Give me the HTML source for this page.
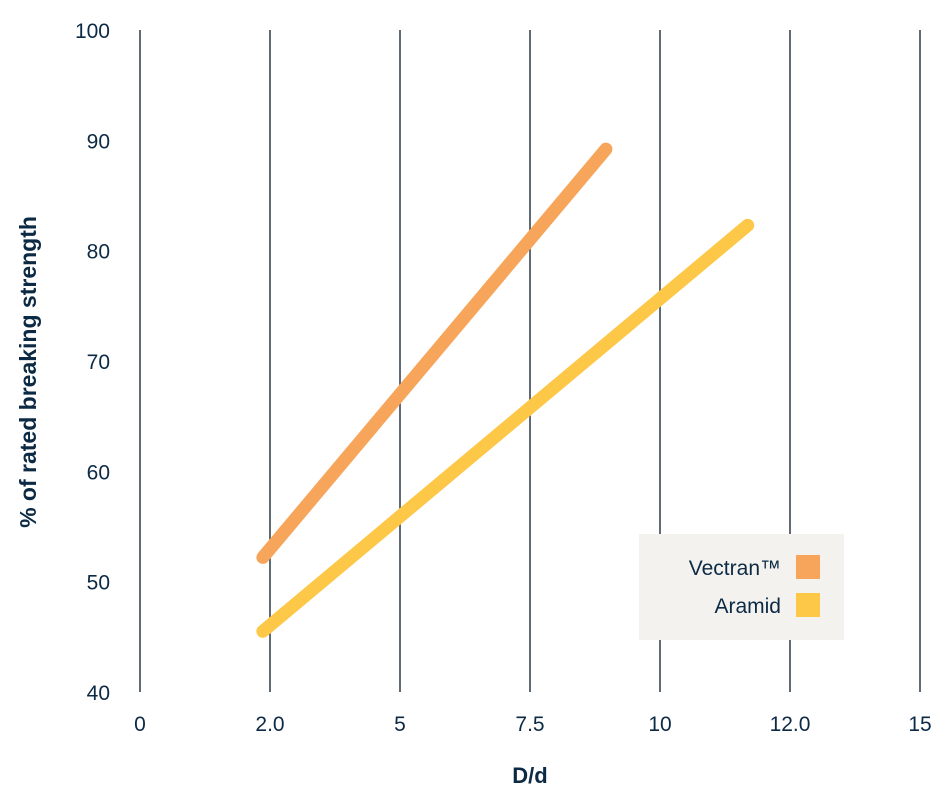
<!DOCTYPE html>
<html><head><meta charset="utf-8"><style>
html,body{margin:0;padding:0;background:#fff;}
svg{display:block;font-family:"Liberation Sans",sans-serif;}
</style></head><body>
<svg id="chart" width="943" height="797" viewBox="0 0 943 797" xmlns="http://www.w3.org/2000/svg"></svg>
<script>
const xTickLabels = ["0","2.0","5","7.5","10","12.0","15"];
const xTickValues = [0,2,5,7.5,10,12,15];
const yTicks = [40,50,60,70,80,90,100];
const seriesNames = ["Vectran™","Aramid"];
const vectranX = [1.89, 8.96];
const vectranY = [52.2, 89.2];
const aramidX = [1.89, 11.35];
const aramidY = [45.5, 82.3];

const NS = "http://www.w3.org/2000/svg";
const svg = document.getElementById("chart");
const X0 = 140, XSTEP = 130, YTOP = 30, YBOT = 692;
const ink = "#0d2a45";
function xScale(v){
  for(let i=0;i<xTickValues.length-1;i++){
    const a=xTickValues[i], b=xTickValues[i+1];
    if(v<=b || i===xTickValues.length-2){
      return X0 + (i + (v-a)/(b-a))*XSTEP;
    }
  }
}
function yScale(v){ return YBOT - (v-40)/(60)*(YBOT-YTOP); }
function mk(tag, attrs){
  const e=document.createElementNS(NS,tag);
  for(const k in attrs) e.setAttribute(k, attrs[k]);
  svg.appendChild(e); return e;
}
xTickValues.forEach((v,i)=>{
  const x=xScale(v);
  const g=mk("line",{x1:x,x2:x,y1:YTOP,y2:YBOT,stroke:"#2b3a48","stroke-width":1.5});
  
  
  const t=mk("text",{x:x,y:731,"text-anchor":"middle","font-size":21,fill:ink});
  t.textContent=xTickLabels[i];
  
  
});
yTicks.forEach(v=>{
  const t=mk("text",{x:110,y:yScale(v)+8,"text-anchor":"end","font-size":21,fill:ink});
  t.textContent=v;
  
  
});
function line(xs,ys,color,name){
  let d="";
  xs.forEach((x,i)=>{ d+=(i?"L":"M")+xScale(x)+" "+yScale(ys[i]); });
  const p=mk("path",{d:d,stroke:color,"stroke-width":13,"stroke-linecap":"round",fill:"none"});
  
  
}
line(vectranX,vectranY,"#f6a55b","vectran-line");
line(aramidX,aramidY,"#fdc748","aramid-line");
const lg=mk("rect",{x:639,y:534,width:205,height:106,fill:"#f3f2ef"});


const colors=["#f6a55b","#fdc748"];
seriesNames.forEach((n,i)=>{
  const y=567+i*38;
  const t=mk("text",{x:781,y:y+8,"text-anchor":"end","font-size":21,fill:ink});
  t.textContent=n;
  
  
  const r=mk("rect",{x:796,y:y-12,width:24,height:24,fill:colors[i]});
  
  
});
const xt=mk("text",{x:530,y:783,"text-anchor":"middle","font-size":22,"font-weight":"bold",fill:ink});
xt.textContent="D/d";


const yt=mk("text",{x:0,y:0,"text-anchor":"middle","font-size":23,"font-weight":"bold",fill:ink,transform:"translate(36,372) rotate(-90)"});
yt.textContent="% of rated breaking strength";


</script>
</body></html>
